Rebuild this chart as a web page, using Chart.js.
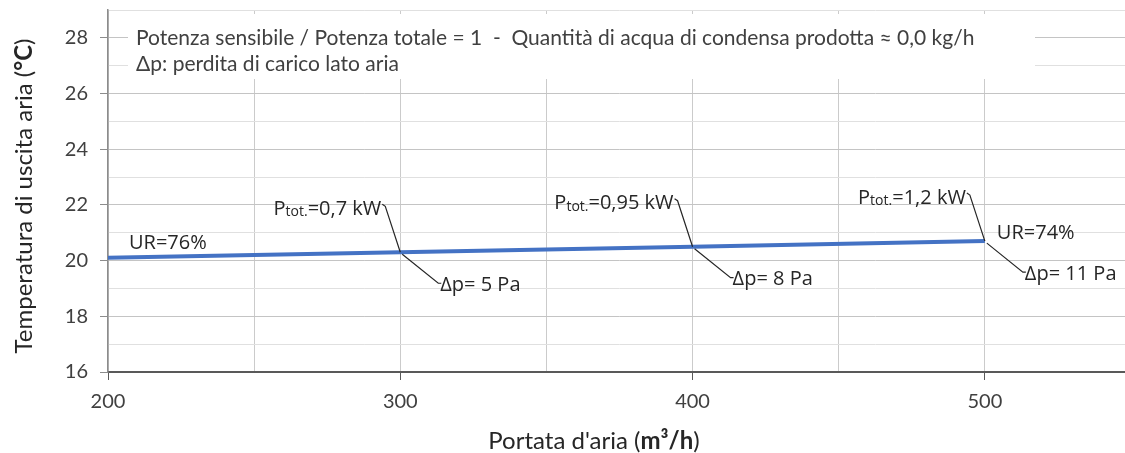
<!DOCTYPE html>
<html>
<head>
<meta charset="utf-8">
<script src="https://cdn.jsdelivr.net/npm/chart.js@4.4.0/dist/chart.umd.min.js"></script>
<style>
  html, body { margin: 0; padding: 0; background: #fff; overflow: hidden; }
  #wrap { position: relative; width: 1131px; height: 453px; }
</style>
</head>
<body>
<div id="wrap"><canvas id="coil-chart"></canvas></div>
<script>
// air flow (m3/h) and outlet temperature (°C)
var flows = [200, 300, 400, 500];
var temps = [20.1, 20.3, 20.5, 20.7];

// labels hung on the points (index 1..3 for power / pressure drop)
var powerLabels = ['', '0,7', '0,95', '1,2'];
var dpLabels = ['', '5', '8', '11'];
var urLabels = ['76%', '', '', '74%'];

var noteLines = [
  'Potenza sensibile / Potenza totale = 1  -  Quantità di acqua di condensa prodotta ≈ 0,0 kg/h',
  'Δp: perdita di carico lato aria'
];

var xMin = 200, xMax = 550, xStep = 50;
var yMin = 16, yMax = 29, yStep = 1;

var points = flows.map(function (f, i) { return { x: f, y: temps[i] }; });

var labelFont = '"Open Sans", sans-serif';
var axisFont = 'Lato, "Open Sans", sans-serif';

// white box with the two note lines at the top of the plot
var noteBox = {
  id: 'noteBox',
  beforeDatasetsDraw: function (chart) {
    var c = chart.ctx, a = chart.chartArea;
    c.save();
    c.fillStyle = '#ffffff';
    c.fillRect(a.left + 20, a.top + 4, 907, 65);
    c.fillStyle = '#404040';
    c.font = '21px ' + axisFont;
    c.textBaseline = 'middle';
    c.fillText(noteLines[0], a.left + 28, a.top + 28);
    c.fillText(noteLines[1], a.left + 28, a.top + 54);
    c.restore();
  }
};

// P tot / Δp / UR labels with leader lines
var pointNotes = {
  id: 'pointNotes',
  afterDatasetsDraw: function (chart) {
    var c = chart.ctx;
    var xs = chart.scales.x, ys = chart.scales.y;
    c.save();
    c.strokeStyle = '#262626';
    c.lineWidth = 1.2;
    c.fillStyle = '#262626';
    c.textBaseline = 'middle';
    flows.forEach(function (f, i) {
      var px = xs.getPixelForValue(f);
      var py = ys.getPixelForValue(temps[i]);

      if (powerLabels[i]) {
        var tx = px - 15, ty = py - 46;
        c.beginPath();
        c.moveTo(px, py);
        c.lineTo(tx, ty);
        c.lineTo(tx - 3, ty - 2);
        c.stroke();
        var big = '20px ' + labelFont, small = '14px ' + labelFont;
        var rest = '=' + powerLabels[i] + ' kW';
        c.font = big;
        var wP = c.measureText('P').width, wR = c.measureText(rest).width;
        c.font = small;
        var wS = c.measureText('tot.').width;
        var x0 = tx - 4 - (wP + wS + wR);
        var yc = ty + 3;
        c.textAlign = 'left';
        c.font = big;
        c.fillText('P', x0, yc);
        c.font = small;
        c.fillText('tot.', x0 + wP, yc + 3);
        c.font = big;
        c.fillText(rest, x0 + wP + wS, yc);
      }

      if (dpLabels[i]) {
        var ex = px + 38, ey = py + 31;
        c.beginPath();
        c.moveTo(px + 2, py + 2);
        c.lineTo(ex, ey);
        c.lineTo(ex + 3, ey);
        c.stroke();
        c.font = '20px ' + labelFont;
        c.textAlign = 'left';
        c.fillText('Δp= ' + dpLabels[i] + ' Pa', ex + 2, ey + 2);
      }

      if (urLabels[i]) {
        c.font = '20px ' + labelFont;
        c.textAlign = 'left';
        if (i === 0) {
          c.fillText('UR=' + urLabels[i], px + 21, py - 15);
        } else {
          c.fillText('UR=' + urLabels[i], px + 12, py - 8);
        }
      }
    });
    c.restore();
  }
};

// axis titles with the bold unit part
function drawMixed(c, parts, x, y) {
  var total = 0;
  parts.forEach(function (p) {
    c.font = (p.bold ? 'bold ' : '') + '24px ' + axisFont;
    p.w = c.measureText(p.t).width;
    total += p.w;
  });
  var cx = x - total / 2;
  parts.forEach(function (p) {
    c.font = (p.bold ? 'bold ' : '') + '24px ' + axisFont;
    c.fillText(p.t, cx, y);
    cx += p.w;
  });
}

var axisTitles = {
  id: 'axisTitles',
  afterDraw: function (chart) {
    var c = chart.ctx, a = chart.chartArea;
    c.save();
    c.fillStyle = '#262626';
    c.textBaseline = 'middle';
    c.textAlign = 'left';
    drawMixed(c, [{ t: "Portata d'aria (" }, { t: 'm³/h', bold: true }, { t: ')' }], 594, 441);
    c.translate(24, (a.top + a.bottom) / 2 + 5);
    c.rotate(-Math.PI / 2);
    drawMixed(c, [{ t: 'Temperatura di uscita aria (' }, { t: '°C', bold: true }, { t: ')' }], 0, 0);
    c.restore();
  }
};

var ctx = document.getElementById('coil-chart').getContext('2d');

new Chart(ctx, {
  type: 'line',
  data: {
    datasets: [{
      label: 'Temperatura uscita',
      data: points,
      borderColor: '#4472C4',
      borderWidth: 4,
      pointRadius: 0,
      tension: 0,
      fill: false,
    }],
  },
  options: {
    responsive: true,
    maintainAspectRatio: false,
    animation: false,
    layout: { padding: { top: 10, right: 0, left: 0, bottom: 0 } },
    plugins: {
      legend: { display: false },
      tooltip: { enabled: false },
    },
    scales: {
      x: {
        type: 'linear',
        min: xMin,
        max: xMax,
        afterFit: function (s) { s.height = 81; s.paddingRight = 0; },
        border: { color: '#595959', width: 2 },
        grid: {
          color: '#cbcbcb',
          lineWidth: 1,
          tickLength: 8,
          tickColor: function (c) {
            return c.tick && c.tick.value % 100 === 0 ? '#595959' : 'rgba(0,0,0,0)';
          },
        },
        ticks: {
          stepSize: xStep,
          autoSkip: false,
          maxRotation: 0,
          padding: 10,
          color: '#404040',
          font: { size: 20, family: axisFont },
          callback: function (v) { return v % 100 === 0 ? v : ''; },
        },
      },
      y: {
        min: yMin,
        max: yMax,
        afterFit: function (s) { s.width = 108; s.paddingTop = 0; },
        border: { color: '#8c8c8c', width: 1.5 },
        grid: {
          color: function (c) {
            return c.tick && c.tick.value % 2 === 0 ? '#c4c4c4' : '#e0e0e0';
          },
          lineWidth: 1,
          tickLength: 8,
          tickColor: function (c) {
            return c.tick && c.tick.value % 2 === 0 ? '#8c8c8c' : 'rgba(0,0,0,0)';
          },
        },
        ticks: {
          stepSize: yStep,
          autoSkip: false,
          padding: 12,
          color: '#404040',
          font: { size: 20, family: axisFont },
          callback: function (v) { return v % 2 === 0 ? v : ''; },
        },
      },
    },
  },
  plugins: [noteBox, pointNotes, axisTitles],
});
</script>
</body>
</html>
